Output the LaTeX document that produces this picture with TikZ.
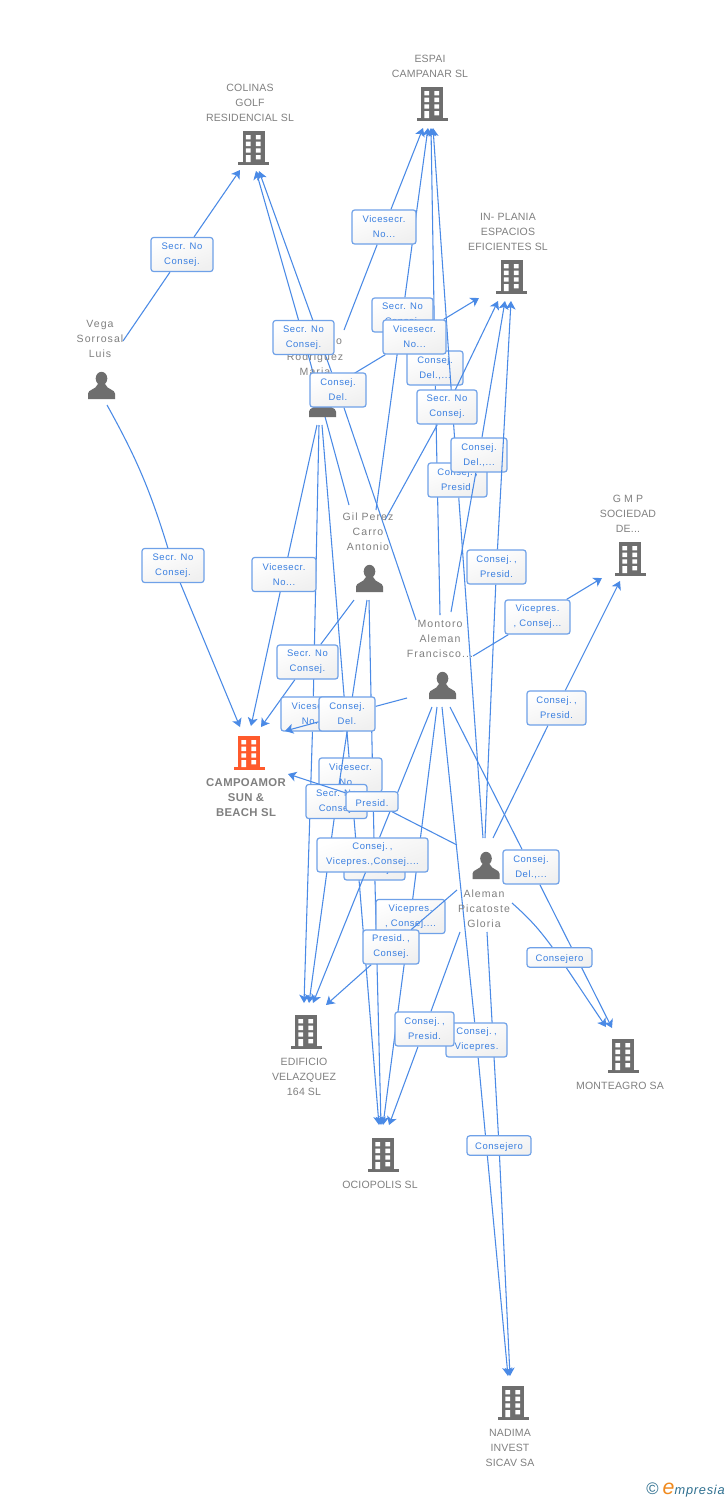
\documentclass[tikz,border=0pt]{standalone}
\usepackage{fontspec}
\usetikzlibrary{arrows.meta}
\setmainfont{Liberation Sans}
\newfontfamily\lblfont[LetterSpace=6,WordSpace=1.9]{Liberation Sans}
\newfontfamily\compfont[LetterSpace=1.5]{Liberation Sans}
\newfontfamily\persfont[LetterSpace=10]{Liberation Sans}
\newfontfamily\mainfont[LetterSpace=3,BoldFont={Liberation Sans Bold}]{Liberation Sans}
\newfontfamily\logofont[LetterSpace=6]{Liberation Sans}
\newcommand\cm{ \kern-1.6pt,}
\definecolor{wireblue}{HTML}{4A8AE6}
\definecolor{boxblue}{HTML}{6FA1E8}
\definecolor{txtblue}{HTML}{3A7FE0}
\definecolor{iconGray}{HTML}{6E6E6E}
\definecolor{txtGray}{HTML}{808080}
\definecolor{mainOrange}{HTML}{FF5A2C}
\definecolor{logoTeal}{HTML}{2F7090}
\definecolor{logoOrange}{HTML}{F08A1E}
\pgfdeclarelayer{edges}
\pgfsetlayers{edges,main}
\tikzset{
  wire/.style={draw=wireblue,line width=0.8pt},
  wirearr/.style={wire,-{Stealth[length=6.2pt,width=7.5pt,inset=1.6pt]}},
  lab/.style={draw=boxblue,line width=0.9pt,rounded corners=2pt,top color=white,bottom color=white!94!black,
    shading angle=20,text=txtblue,align=center,inner sep=0pt,minimum height=25.5pt,
    font=\lblfont\fontsize{7.1}{11.25}\selectfont,
    execute at begin node={\rule{0pt}{6.9pt}}},
  w/.style={minimum width=#1*0.75pt},
  short/.style={minimum height=14.5pt},
  compname/.style={text=txtGray,align=center,inner sep=0pt,font=\compfont\fontsize{7.9}{11.25}\selectfont},
  persname/.style={text=txtGray,align=center,inner sep=0pt,font=\persfont\fontsize{7.9}{11.25}\selectfont},
  mainname/.style={text=txtGray,align=center,inner sep=0pt,font=\mainfont\bfseries\fontsize{8.5}{11.25}\selectfont},
  building/.pic={
    \fill[pic actions] (-11,0) rectangle (11,31);
    \fill[pic actions] (-15.5,31) rectangle (15.5,34);
    \fill[white] (-7.7,4) rectangle (-3,8.4) (2.3,4) rectangle (7,8.4)
      (-7.7,10.7) rectangle (-3,15) (2.3,10.7) rectangle (7,15)
      (-7.7,17.3) rectangle (-3,21.6) (2.3,17.3) rectangle (7,21.6)
      (-7.7,24) rectangle (-3,31) (2.3,24) rectangle (7,28.3);
  },
  person/.pic={
    \fill[pic actions] (0,6.5) ellipse (5.8 and 6.7);
    \fill[pic actions] (-13.5,27) -- (-13.5,21.5) .. controls (-13.5,17.5) and (-6,18) .. (-3.5,12)
      -- (3.5,12) .. controls (6,18) and (13.5,17.5) .. (13.5,21.5) -- (13.5,27) -- cycle;
  }
}
\newcommand\linkvia[3]{\draw[wire] (#1) -- (#2); \draw[wirearr] (#2) -- (#3);}
\begin{document}
\begin{tikzpicture}[x=0.75pt,y=-0.75pt]
\useasboundingbox (0,0) rectangle (728,1500);
\begin{pgfonlayer}{edges}
\fill[white] (0,0) rectangle (728,1500);
\end{pgfonlayer}
% free ends
\coordinate (a1) at (123,341);   \coordinate (z1) at (240,170);
\coordinate (a2) at (344,330);   \coordinate (z2) at (423,128);
\coordinate (a3) at (376,510);   \coordinate (z3) at (428,128);
\coordinate (a4) at (335,385);   \coordinate (z4) at (479,298);
\coordinate (a5) at (349,505);   \coordinate (z5) at (256,171);
\coordinate (a6) at (416,620);   \coordinate (z6) at (259,171);
\coordinate (a7) at (440,615);   \coordinate (z7) at (431,128);
\coordinate (a8) at (385,520);   \coordinate (z8) at (498,301);
\coordinate (a9) at (451,612);   \coordinate (z9) at (505,301);
\coordinate (a10) at (483,838);  \coordinate (z10) at (433,128);
\coordinate (a11) at (485,838);  \coordinate (z11) at (511,301);
\coordinate (a12) at (473,656);  \coordinate (z12) at (602,578);
\coordinate (a13) at (493,838);  \coordinate (z13) at (620,581);
\coordinate (a14) at (107,405);  \coordinate (z14) at (240,727);
\coordinate (a15) at (317,425);  \coordinate (z15) at (251,726);
\coordinate (a16) at (354,600);  \coordinate (z16) at (261,727);
\coordinate (a17) at (319,425);  \coordinate (z17) at (304,1003);
\coordinate (a18) at (407,698);  \coordinate (z18) at (285,731);
\coordinate (a19) at (322,425);  \coordinate (z19) at (379,1125);
\coordinate (a20) at (367,600);  \coordinate (z20) at (309,1003);
\coordinate (a21) at (457,845);  \coordinate (z21) at (288,774);
\coordinate (a22) at (432,707);  \coordinate (z22) at (313,1003);
\coordinate (a23) at (369,600);  \coordinate (z23) at (381,1125);
\coordinate (a24) at (450,707);  \coordinate (z24) at (612,1028);
\coordinate (a25) at (437,707);  \coordinate (z25) at (383,1125);
\coordinate (a26) at (457,890);  \coordinate (z26) at (326,1005);
\coordinate (a27) at (512,903);  \coordinate (z27) at (606,1027);
\coordinate (a28) at (460,932);  \coordinate (z28) at (389,1125);
\coordinate (a29) at (442,707);  \coordinate (z29) at (508,1376);
\coordinate (a30) at (487,932);  \coordinate (z30) at (510,1376);
\coordinate (c8) at (447,407);
\coordinate (c10) at (457.5,480);
\coordinate (c20) at (336.5,801.5);
% companies
\pic[iconGray] (bcolinas) at (253.5,131) {building};
\pic[iconGray] (bespai) at (432,87) {building};
\pic[iconGray] (bplania) at (511.5,260) {building};
\pic[iconGray] (bgmp) at (630,542) {building};
\pic[mainOrange] (bcampo) at (249,736) {building};
\pic[iconGray] (bedif) at (306,1015) {building};
\pic[iconGray] (bocio) at (383,1138) {building};
\pic[iconGray] (bmonte) at (623,1039) {building};
\pic[iconGray] (bnadima) at (513,1386) {building};
\node[compname] (ncolinas) at (250,103) {COLINAS\\GOLF\\RESIDENCIAL SL};
\node[compname] (nespai) at (430,66.5) {ESPAI\\CAMPANAR SL};
\node[compname] (nplania) at (508,232) {IN- PLANIA\\ESPACIOS\\EFICIENTES  SL};
\node[compname] (ngmp) at (628,514) {G M P\\SOCIEDAD\\DE...};
\node[mainname] (ncampo) at (246,798) {CAMPOAMOR\\SUN \&\\BEACH SL};
\node[compname] (nedif) at (304,1077) {EDIFICIO\\VELAZQUEZ\\164 SL};
\node[compname] (nocio) at (380,1185) {OCIOPOLIS SL};
\node[compname] (nmonte) at (620,1086) {MONTEAGRO SA};
\node[compname] (nnadima) at (510,1448) {NADIMA\\INVEST\\SICAV SA};
% people
\pic[iconGray] (pvega) at (101.5,372) {person};
\pic[iconGray] (prod) at (322.5,390) {person};
\pic[iconGray] (pgil) at (369.5,565) {person};
\pic[iconGray] (pmont) at (442.5,672) {person};
\pic[iconGray] (pale) at (486,852) {person};
\node[persname] (nvega) at (100,339) {Vega\\Sorrosal\\Luis};
\node[persname] (nrodfirst) at (339,342) {o};
\node[persname] (nrod) at (315,364.5) {Rodriguez\\Maria};
\node[persname] (ngil) at (368,532) {Gil Perez\\Carro\\Antonio};
\node[persname] (nmont) at (440,639) {Montoro\\Aleman\\Francisco...};
\node[persname] (nale) at (484,909) {Aleman\\Picatoste\\Gloria};
% role labels, in stacking order
\node[lab,w=62] (l1) at (182,254.5) {Secr. No\\Consej.};
\node[lab,w=64] (l2) at (384,227) {Vicesecr.\\No...};
\node[lab,w=56] (l7) at (435,368) {Consej.\\Del.,...};
\draw[wirearr] (c10) -- (z10);
\draw[wirearr] (c8) -- (z8);
\node[lab,w=61] (l3) at (402.5,315) {Secr. No\\Consej.};
\node[lab,w=63] (l4) at (414.5,337) {Vicesecr.\\No...};
\node[lab,w=61] (l5) at (303.5,337.5) {Secr. No\\Consej.};
\node[lab,w=56] (l6) at (338,390) {Consej.\\Del.};
\node[lab,w=60] (l8) at (c8) {Secr. No\\Consej.};
\node[lab,w=59] (l10) at (c10) {Consej.\cm\\Presid.};
\node[lab,w=56] (l9) at (479,455) {Consej.\\Del.,...};
\node[lab,w=59] (l11) at (496.5,567) {Consej.\cm\\Presid.};
\node[lab,w=65] (l12) at (537.5,617) {Vicepres.\\, Consej...};
\node[lab,w=59] (l13) at (556.5,708) {Consej.\cm\\Presid.};
\node[lab,w=62] (l14) at (173,565.5) {Secr. No\\Consej.};
\node[lab,w=64] (l15) at (284,574.5) {Vicesecr.\\No...};
\node[lab,w=61] (l16) at (307.5,662) {Secr. No\\Consej.};
\node[lab,w=64] (l17) at (313,714) {Vicesecr.\\No...};
\node[lab,w=63] (l19) at (350.5,775) {Vicesecr.\\No...};
\draw[wire] (a20) -- (c20);
\node[lab,w=56] (l18) at (347,714) {Consej.\\Del.};
\node[lab,w=61] (l20) at (c20) {Secr. No\\Consej.};
\node[lab,w=52,short] (l21) at (372,801.5) {Presid.};
\node[lab,w=61] (l23) at (374.5,863) {Secr. No\\Consej.};
\node[lab,w=111] (l22) at (372.5,855) {Consej.\cm\\Vicepres.,Consej....};
\node[lab,w=56] (l24) at (531,867) {Consej.\\Del.,...};
\node[lab,w=69] (l25) at (410.5,916.5) {Vicepres.\\, Consej....};
\node[lab,w=56] (l26) at (391,947) {Presid.\cm\\Consej.};
\node[lab,w=65,short] (l27) at (559.5,957.5) {Consejero};
\node[lab,w=61] (l29) at (476.5,1040) {Consej.\cm\\Vicepres.};
\node[lab,w=59] (l28) at (424.5,1029) {Consej.\cm\\Presid.};
\node[lab,w=64,short] (l30) at (499,1145.5) {Consejero};
% connector stretches that run over other labels
\draw[wirearr] (l18) -- (z18);
\draw[wirearr] (l21) -- (z21);
\draw[wire] (a26) -- (l26);
\draw[wirearr] (l22) -- (z22);
\draw[wire] (a9) -- (l9);
\draw[wirearr] (l11) -- (z11);
% logo
\node[anchor=east,inner sep=0pt,text=logoTeal,font=\logofont\itshape\fontsize{9.6}{12}\selectfont] (logo) at (725,1490)
  {{\upshape\fontsize{12.5}{12}\selectfont ©}\hspace{3pt}{\color{logoOrange}\fontsize{16}{12}\selectfont e}mpresia};
% remaining connectors, behind everything
\begin{pgfonlayer}{edges}
\linkvia{a1}{l1}{z1}
\linkvia{a2}{l2}{z2}
\linkvia{a3}{l3}{z3}
\linkvia{a4}{l4}{z4}
\linkvia{a5}{l5}{z5}
\linkvia{a6}{l6}{z6}
\linkvia{a7}{l7}{z7}
\draw[wire] (a8) -- (l8);
\draw[wirearr] (l9) -- (z9);
\draw[wire] (a10) -- (l10);
\draw[wire] (a11) -- (l11);
\linkvia{a12}{l12}{z12}
\linkvia{a13}{l13}{z13}
\draw[wire] (a14) to[bend left=6] (l14); \draw[wirearr] (l14) -- (z14);
\linkvia{a15}{l15}{z15}
\linkvia{a16}{l16}{z16}
\linkvia{a17}{l17}{z17}
\draw[wire] (a18) -- (l18);
\linkvia{a19}{l19}{z19}
\draw[wirearr] (l20) -- (z20);
\draw[wire] (a21) -- (l21);
\draw[wire] (a22) -- (l22);
\linkvia{a23}{l23}{z23}
\linkvia{a24}{l24}{z24}
\linkvia{a25}{l25}{z25}
\draw[wirearr] (l26) -- (z26);
\draw[wire] (a27) to[bend left=6] (l27); \draw[wirearr] (l27) -- (z27);
\linkvia{a28}{l28}{z28}
\linkvia{a29}{l29}{z29}
\linkvia{a30}{l30}{z30}
\end{pgfonlayer}
\end{tikzpicture}
\end{document}
